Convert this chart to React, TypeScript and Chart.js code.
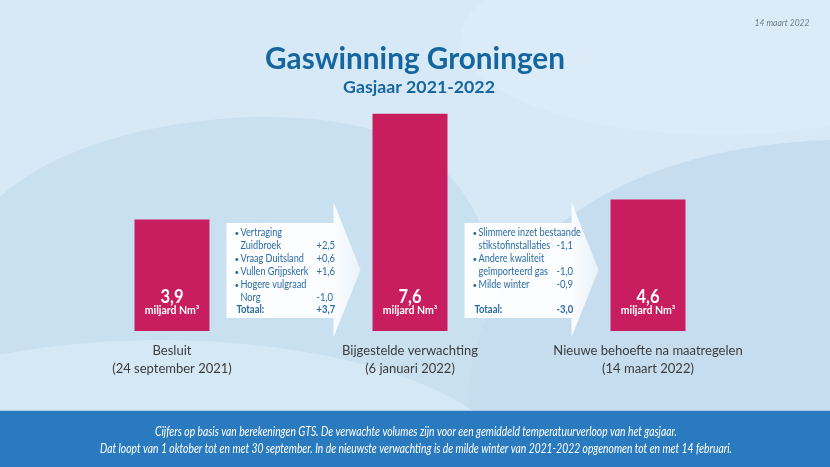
import React, { useEffect, useRef } from "react";
import { Chart, registerables } from "chart.js";

Chart.register(...registerables);

// ---------- data ----------
const categories: string[][] = [
  ["Besluit", "(24 september 2021)"],
  ["Bijgestelde verwachting", "(6 januari 2022)"],
  ["Nieuwe behoefte na maatregelen", "(14 maart 2022)"],
];
const volumes: number[] = [3.9, 7.6, 4.6];
const unitLabel = "miljard Nm³";

const stepOneLabels: string[][] = [
  ["Vertraging", "Zuidbroek"],
  ["Vraag Duitsland"],
  ["Vullen Grijpskerk"],
  ["Hogere vulgraad", "Norg"],
];
const stepOneValues: number[] = [2.5, 0.6, 1.6, -1.0];

const stepTwoLabels: string[][] = [
  ["Slimmere inzet bestaande", "stikstofinstallaties"],
  ["Andere kwaliteit", "geïmporteerd gas"],
  ["Milde winter"],
];
const stepTwoValues: number[] = [-1.1, -1.0, -0.9];

const totalLabel = "Totaal:";
const titleText = "Gaswinning Groningen";
const subtitleText = "Gasjaar 2021-2022";
const dateText = "14 maart 2022";
const footnoteLines: string[] = [
  "Cijfers op basis van berekeningen GTS. De verwachte volumes zijn voor een gemiddeld temperatuurverloop van het gasjaar.",
  "Dat loopt van 1 oktober tot en met 30 september. In de nieuwste verwachting is de milde winter van 2021-2022 opgenomen tot en met 14 februari.",
];

// ---------- styling ----------
const FONT = 'Lato, "Open Sans", sans-serif';
const BAR_COLOR = "#c81d5f";
const TITLE_COLOR = "#15669f";
const LIST_COLOR = "#2b6ca5";

const fmt = (v: number, signed = false) => {
  const s = Math.abs(v).toFixed(1).replace(".", ",");
  if (signed) return (v >= 0 ? "+" : "-") + s;
  return (v < 0 ? "-" : "") + s;
};

function fitFont(ctx: CanvasRenderingContext2D, text: string, style: string, target: number) {
  ctx.font = `${style} 20px ${FONT}`;
  const w = ctx.measureText(text).width;
  const size = (20 * target) / w;
  ctx.font = `${style} ${size}px ${FONT}`;
  return size;
}

// draws text at (x, y) horizontally condensed by factor sx
function condensedText(ctx: CanvasRenderingContext2D, text: string, x: number, y: number, sx: number) {
  ctx.save();
  ctx.translate(x, y);
  ctx.scale(sx, 1);
  ctx.fillText(text, 0, 0);
  ctx.restore();
}

const backgroundPlugin = {
  id: "background",
  beforeDraw(chart: any) {
    const { ctx, width, height } = chart;
    ctx.save();
    ctx.fillStyle = "#d7e9f6";
    ctx.fillRect(0, 0, width, height);

    // swooshes
    ctx.fillStyle = "#c9e0f1";
    ctx.beginPath();
    ctx.moveTo(0, 197);
    ctx.bezierCurveTo(90, 112, 330, 92, 420, 150);
    ctx.bezierCurveTo(470, 185, 492, 235, 497, 300);
    ctx.lineTo(490, 411);
    ctx.lineTo(0, 411);
    ctx.closePath();
    ctx.fill();

    ctx.fillStyle = "#c5ddef";
    ctx.beginPath();
    ctx.moveTo(468, 411);
    ctx.bezierCurveTo(468, 260, 600, 148, 830, 140);
    ctx.lineTo(830, 411);
    ctx.closePath();
    ctx.fill();

    ctx.fillStyle = "#d5e8f5";
    ctx.beginPath();
    ctx.ellipse(160, 480, 360, 140, 0, 0, Math.PI * 2);
    ctx.fill();

    ctx.fillStyle = "rgba(222,237,249,0.6)";
    ctx.beginPath();
    ctx.ellipse(720, 40, 260, 95, 0, 0, Math.PI * 2);
    ctx.fill();

    // footer band
    ctx.fillStyle = "#2a7abf";
    ctx.fillRect(0, 411, width, height - 411);
    ctx.fillStyle = "#a8cbe8";
    ctx.fillRect(0, 410, width, 1);

    // titles
    ctx.textAlign = "center";
    ctx.textBaseline = "middle";
    ctx.fillStyle = TITLE_COLOR;
    fitFont(ctx, titleText, "bold", 300);
    ctx.fillText(titleText, 415, 59);
    fitFont(ctx, subtitleText, "bold", 152);
    ctx.fillText(subtitleText, 419, 87);

    // date
    ctx.fillStyle = "#6f7f8d";
    fitFont(ctx, dateText, "italic", 55);
    ctx.fillText(dateText, 782, 23);

    // footnote (condensed italic)
    ctx.fillStyle = "#ffffff";
    ctx.font = `italic 12.5px ${FONT}`;
    const sx = 632 / ctx.measureText(footnoteLines[1]).width;
    condensedText(ctx, footnoteLines[0], 416, 432, sx);
    condensedText(ctx, footnoteLines[1], 416, 449, sx);
    ctx.restore();
  },
};

const overlayPlugin = {
  id: "overlay",
  afterDatasetsDraw(chart: any) {
    const ctx: CanvasRenderingContext2D = chart.ctx;
    const bars = chart.getDatasetMeta(0).data as any[];
    ctx.save();

    // value labels inside bars
    bars.forEach((bar: any, i: number) => {
      const { x, base } = bar.getProps(["x", "base"], true);
      ctx.fillStyle = "#ffffff";
      ctx.textAlign = "center";
      ctx.textBaseline = "middle";
      ctx.font = `bold 18px ${FONT}`;
      condensedText(ctx, fmt(volumes[i]), x, base - 34, 0.92);
      ctx.font = `bold 10.5px ${FONT}`;
      ctx.fillText(unitLabel, x, base - 20);
    });

    // arrows with change lists
    const steps = [
      { labels: stepOneLabels, values: stepOneValues, valueOffset: 90 },
      { labels: stepTwoLabels, values: stepTwoValues, valueOffset: 92 },
    ];
    steps.forEach((step, i) => {
      const a = bars[i].getProps(["x", "base", "width"], true);
      const b = bars[i + 1].getProps(["x", "base", "width"], true);
      const left = a.x + a.width / 2 + 17;
      const tip = b.x - b.width / 2 - 12;
      const headStart = tip - 27;
      const base = a.base;
      const bodyTop = base - 108;
      const bodyBottom = base - 13;
      const headTop = base - 129;
      const headBottom = base + 6;
      const tipY = base - 61;

      const g = ctx.createLinearGradient(left, 0, tip, 0);
      g.addColorStop(0, "rgba(255,255,255,0.97)");
      g.addColorStop((headStart - left) / (tip - left), "rgba(255,255,255,0.93)");
      g.addColorStop(1, "rgba(255,255,255,0.6)");
      ctx.fillStyle = g;
      ctx.beginPath();
      ctx.moveTo(left, bodyTop);
      ctx.lineTo(headStart, bodyTop);
      ctx.lineTo(headStart, headTop);
      ctx.lineTo(tip, tipY);
      ctx.lineTo(headStart, headBottom);
      ctx.lineTo(headStart, bodyBottom);
      ctx.lineTo(left, bodyBottom);
      ctx.closePath();
      ctx.fill();

      ctx.fillStyle = LIST_COLOR;
      ctx.textAlign = "left";
      ctx.textBaseline = "middle";
      const valueX = left + step.valueOffset;
      let line = 0;
      const startY = bodyTop + 10;
      const textX = left + 14;
      step.labels.forEach((lines, k) => {
        lines.forEach((txt, j) => {
          const y = startY + line * 13;
          if (j === 0) {
            ctx.font = `8px ${FONT}`;
            ctx.fillText("•", left + 8, y);
          }
          ctx.font = `10.5px ${FONT}`;
          condensedText(ctx, txt, textX, y, 0.87);
          if (j === lines.length - 1) {
            condensedText(ctx, fmt(step.values[k], i === 0), valueX, y, 0.9);
          }
          line++;
        });
      });
      const total = Math.round(step.values.reduce((s, v) => s + v, 0) * 10) / 10;
      const ty = bodyBottom - 8;
      ctx.font = `bold 10.5px ${FONT}`;
      condensedText(ctx, totalLabel, left + 10, ty, 0.9);
      condensedText(ctx, fmt(total, i === 0), valueX, ty, 0.9);
    });

    ctx.restore();
  },
};

export default function App() {
  const canvasRef = useRef<HTMLCanvasElement | null>(null);

  useEffect(() => {
    if (!canvasRef.current) return;
    const chart = new Chart(canvasRef.current, {
      type: "bar",
      data: {
        labels: categories,
        datasets: [
          {
            data: volumes,
            backgroundColor: BAR_COLOR,
            barPercentage: 0.315,
            categoryPercentage: 1,
          },
        ],
      },
      options: {
        responsive: false,
        animation: false,
        events: [],
        layout: { padding: { left: 53, right: 63, top: 45, bottom: 78 } },
        plugins: {
          legend: { display: false },
          tooltip: { enabled: false },
          title: { display: false },
        },
        scales: {
          x: {
            grid: { display: false, drawTicks: false },
            border: { display: false },
            ticks: {
              font: { family: FONT, size: 13, lineHeight: 1.385 },
              color: "#3c3c3c",
              padding: 11,
              autoSkip: false,
              maxRotation: 0,
            },
          },
          y: { display: false, min: 0, max: 10 },
        },
      },
      plugins: [backgroundPlugin, overlayPlugin],
    } as any);
    return () => chart.destroy();
  }, []);

  return (
    <div style={{ position: "absolute", left: 0, top: 0, width: 830, height: 467 }}>
      <canvas ref={canvasRef} width={830} height={467} />
    </div>
  );
}
